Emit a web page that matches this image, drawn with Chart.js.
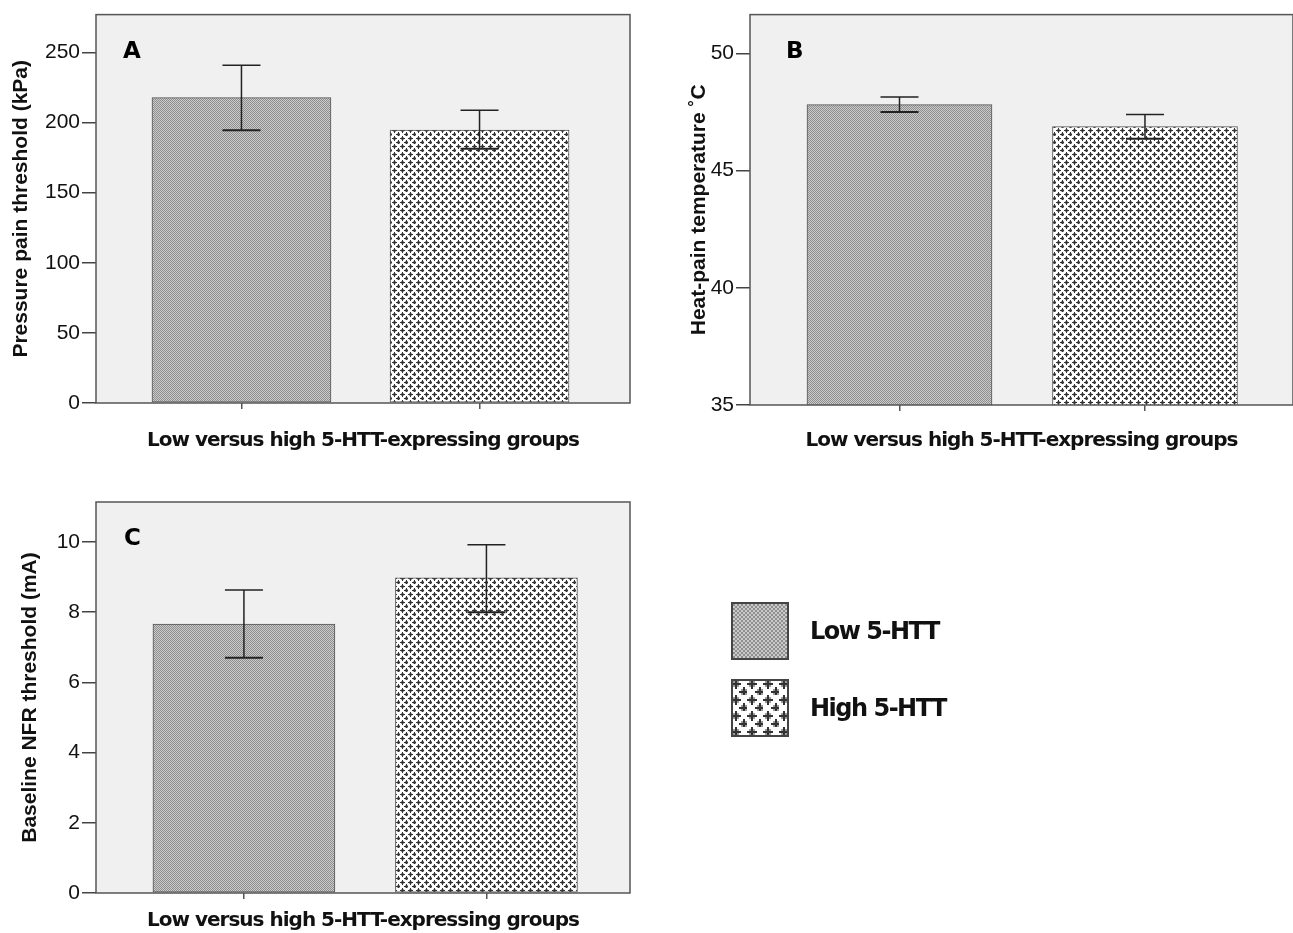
<!DOCTYPE html>
<html>
<head>
<meta charset="utf-8">
<script src="https://cdn.jsdelivr.net/npm/chart.js@4.4.1/dist/chart.umd.min.js"></script>
<style>
  body { margin: 0; background: #fff; width: 1293px; height: 933px; position: relative; overflow: hidden; }
  .panel { position: absolute; }
  .legend { position: absolute; left: 731px; top: 602px; font-family: "DejaVu Sans", sans-serif; font-weight: bold; font-size: 24px; letter-spacing: -1.5px; color: #111; }
  .legend-row { display: flex; align-items: center; height: 58px; margin-bottom: 19px; }
  .legend-row canvas { width: 58px; height: 58px; margin-right: 21px; }
</style>
</head>
<body>
<div class="panel" style="left:0;top:0;width:640px;height:462px"><canvas id="chartA"></canvas></div>
<div class="panel" style="left:680px;top:0;width:613px;height:462px"><canvas id="chartB"></canvas></div>
<div class="panel" style="left:0;top:480px;width:640px;height:453px"><canvas id="chartC"></canvas></div>
<div class="legend">
  <div class="legend-row"><canvas id="swLow" width="58" height="58"></canvas><span id="lblLow"></span></div>
  <div class="legend-row"><canvas id="swHigh" width="58" height="58"></canvas><span id="lblHigh"></span></div>
</div>
<script>
// group names (legend)
const groups = ['Low 5-HTT', 'High 5-HTT'];
const groupPos = [1, 2];
const xTitle = 'Low versus high 5-HTT-expressing groups';

// A: pressure pain threshold, mean with error bar ends
const pressureMean = [217.8, 194.6];
const pressureLo = [194.6, 181.4];
const pressureHi = [240.8, 208.7];

// B: heat-pain temperature
const heatMean = [47.81, 46.87];
const heatLo = [47.50, 46.35];
const heatHi = [48.14, 47.39];

// C: baseline NFR threshold
const nfrMean = [7.66, 8.98];
const nfrLo = [6.70, 8.00];
const nfrHi = [8.63, 9.92];

// patterns used for the two groups
function makeLowPattern(scale) {
    const c = document.createElement('canvas');
    c.width = 2 * scale; c.height = 2 * scale;
    const g = c.getContext('2d');
    g.fillStyle = '#cbcbcb';
    g.fillRect(0, 0, c.width, c.height);
    g.fillStyle = '#8e8e8e';
    g.fillRect(0, 0, scale, scale);
    g.fillRect(scale, scale, scale, scale);
    return c;
}

function makeHighPattern(scale) {
    const c = document.createElement('canvas');
    c.width = 8 * scale; c.height = 8 * scale;
    const g = c.getContext('2d');
    g.fillStyle = '#ffffff';
    g.fillRect(0, 0, c.width, c.height);
    const plus = (cx, cy) => {
        // grey halo, then the dark cross
        g.fillStyle = '#9a9a9a';
        g.fillRect((cx - 1) * scale, (cy - 1) * scale, 3 * scale, 3 * scale);
        g.fillStyle = '#333';
        g.fillRect((cx - 2) * scale, cy * scale, 5 * scale, scale);
        g.fillRect(cx * scale, (cy - 2) * scale, scale, 5 * scale);
    };
    plus(2, 2);
    plus(6, 6);
    return c;
}

const lowPat = document.createElement('canvas').getContext('2d').createPattern(makeLowPattern(1), 'repeat');
const highPat = document.createElement('canvas').getContext('2d').createPattern(makeHighPattern(1), 'repeat');

// background + frame + error bars + panel letter + x title
const panelDecor = {
    id: 'panelDecor',
    beforeDraw(chart) {
        const {ctx, chartArea: a} = chart;
        ctx.save();
        ctx.fillStyle = '#f0f0f0';
        ctx.fillRect(a.left, a.top, a.right - a.left, a.bottom - a.top);
        ctx.restore();
    },
    afterDatasetsDraw(chart) {
        const {ctx, chartArea: a, scales} = chart;
        const o = chart.options.plugins.panelDecor;
        const meta = chart.getDatasetMeta(0);
        ctx.save();
        ctx.strokeStyle = '#222';
        meta.data.forEach((bar, i) => {
            const yH = scales.y.getPixelForValue(o.hi[i]);
            const yL = scales.y.getPixelForValue(o.lo[i]);
            ctx.lineWidth = 1.5;
            ctx.beginPath();
            ctx.moveTo(bar.x, yH); ctx.lineTo(bar.x, yL);
            ctx.moveTo(bar.x - 19, yH); ctx.lineTo(bar.x + 19, yH);
            ctx.stroke();
            ctx.lineWidth = 2;
            ctx.beginPath();
            ctx.moveTo(bar.x - 19, yL); ctx.lineTo(bar.x + 19, yL);
            ctx.stroke();
        });
        // frame
        ctx.strokeStyle = '#555';
        ctx.lineWidth = 1.5;
        ctx.strokeRect(a.left, a.top, a.right - a.left, a.bottom - a.top);
        // panel letter
        ctx.fillStyle = '#000';
        ctx.font = 'bold 23px "DejaVu Sans"';
        ctx.textAlign = 'left';
        ctx.textBaseline = 'alphabetic';
        ctx.fillText(o.letter, a.left + o.letterDx, a.top + 43);
        // x axis title
        ctx.font = 'bold 20px "DejaVu Sans"';
        ctx.letterSpacing = '-1px';
        ctx.textAlign = 'center';
        ctx.fillStyle = '#111';
        ctx.fillText(xTitle, (a.left + a.right) / 2, a.bottom + o.xTitleGap);
        ctx.restore();
    }
};

function makePanel(id, p) {
    return new Chart(document.getElementById(id), {
        type: 'bar',
        data: {
            datasets: [{
                data: groupPos.map((x, i) => ({x: x, y: p.mean[i]})),
                backgroundColor: [lowPat, highPat],
                borderColor: '#555',
                borderWidth: 1,
                borderSkipped: false,
                barThickness: p.barPx
            }]
        },
        options: {
            responsive: true,
            maintainAspectRatio: false,
            animation: false,
            layout: { padding: p.padding },
            plugins: {
                legend: { display: false },
                tooltip: { enabled: false },
                panelDecor: { lo: p.lo, hi: p.hi, letter: p.letter, letterDx: p.letterDx, xTitleGap: p.xTitleGap }
            },
            scales: {
                x: {
                    type: 'linear',
                    offset: false,
                    min: p.xMin,
                    max: p.xMax,
                    afterBuildTicks: s => { s.ticks = groupPos.map(v => ({value: v})); },
                    afterFit: s => { s.height = p.xHeight; },
                    ticks: { callback: () => '' },
                    grid: { offset: false, drawOnChartArea: false, tickLength: 6, color: '#555', lineWidth: 1.5 },
                    border: { display: false }
                },
                y: {
                    min: p.yMin,
                    max: p.yMax,
                    afterFit: s => { s.width = p.yWidth; },
                    ticks: {
                        stepSize: p.yStep,
                        includeBounds: false,
                        padding: 2,
                        color: '#111',
                        font: { family: '"Liberation Sans", Arial', size: 21 }
                    },
                    grid: { drawOnChartArea: false, tickLength: 14, color: '#444', lineWidth: 1.5 },
                    border: { display: false },
                    title: {
                        display: true,
                        text: p.yTitle,
                        color: '#111',
                        padding: { top: p.yTitlePad, bottom: 0 },
                        font: { family: '"Liberation Sans", Arial', size: 21, weight: 'bold' }
                    }
                }
            }
        },
        plugins: [panelDecor]
    });
}

makePanel('chartA', {
    mean: pressureMean, lo: pressureLo, hi: pressureHi,
    yMin: 0, yMax: 277, yStep: 50, yTitle: 'Pressure pain threshold (kPa)',
    xMin: 0.389, xMax: 2.632, barPx: 179,
    padding: { top: 10, right: 10, left: 0, bottom: 0 },
    yWidth: 96, xHeight: 59, yTitlePad: 9,
    letter: 'A', letterDx: 27, xTitleGap: 43
});

makePanel('chartB', {
    mean: heatMean, lo: heatLo, hi: heatHi,
    yMin: 35, yMax: 51.65, yStep: 5, yTitle: 'Heat-pain temperature \u02DAC',
    xMin: 0.391, xMax: 2.603, barPx: 185,
    padding: { top: 10, right: 0, left: 0, bottom: 0 },
    yWidth: 70, xHeight: 57, yTitlePad: 7,
    letter: 'B', letterDx: 36, xTitleGap: 41
});

makePanel('chartC', {
    mean: nfrMean, lo: nfrLo, hi: nfrHi,
    yMin: 0, yMax: 11.14, yStep: 2, yTitle: 'Baseline NFR threshold (mA)',
    xMin: 0.390, xMax: 2.592, barPx: 182,
    padding: { top: 22, right: 10, left: 0, bottom: 0 },
    yWidth: 96, xHeight: 40, yTitlePad: 18,
    letter: 'C', letterDx: 28, xTitleGap: 33
});

// legend swatches
function drawSwatch(id, tile) {
    const cv = document.getElementById(id);
    const g = cv.getContext('2d');
    g.fillStyle = g.createPattern(tile, 'repeat');
    g.fillRect(0, 0, cv.width, cv.height);
    g.strokeStyle = '#444';
    g.lineWidth = 2;
    g.strokeRect(1, 1, cv.width - 2, cv.height - 2);
}
drawSwatch('swLow', makeLowPattern(2));
drawSwatch('swHigh', makeHighPattern(2));
document.getElementById('lblLow').textContent = groups[0];
document.getElementById('lblHigh').textContent = groups[1];
</script>
</body>
</html>
